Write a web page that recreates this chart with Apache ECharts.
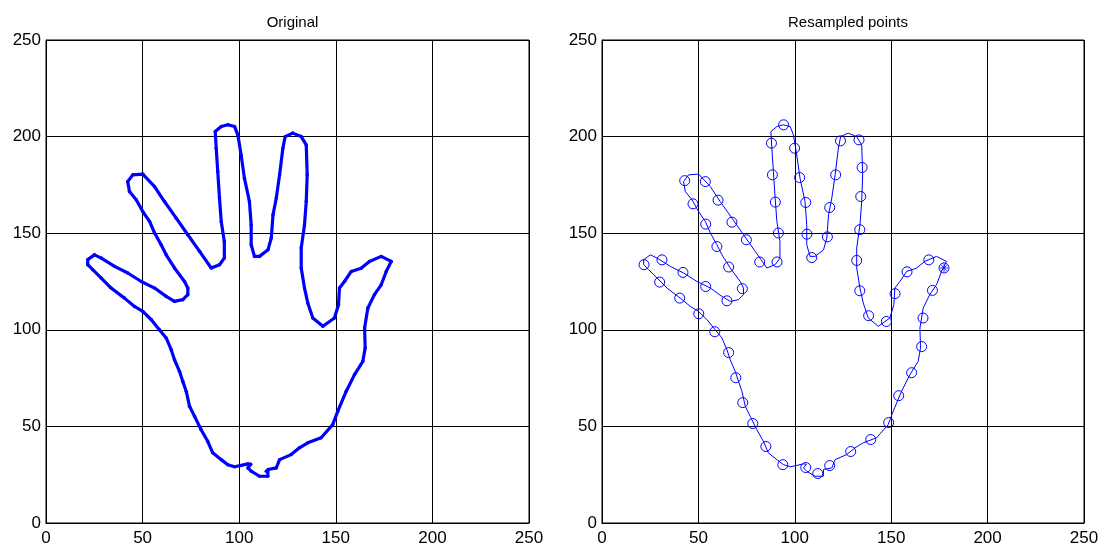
<!DOCTYPE html>
<html>
<head>
<meta charset="utf-8">
<script src="https://cdn.jsdelivr.net/npm/echarts@6/dist/echarts.min.js"></script>
<style>html,body{margin:0;padding:0;background:#fff}#c{width:1109px;height:549px}</style>
</head>
<body>
<div id="c"></div>
<script>
// Original hand outline (traced)
const origX = [178.7,176.1,173.5,170,166.6,164.9,165.2,164,159.7,155.4,151,148.4,142.4,135.5,131.2,126.9,120.9,119.2,114.9,114,114.8,110.5,106.2,104.5,106,104.5,101,97.6,94.1,90.7,86.3,83.7,80.3,76.9,74.3,72.6,70.8,69.1,66.5,64.8,62.2,58.7,54.5,50.1,45.8,40.6,33.7,28.6,24.2,21.6,21.6,25.1,28.6,35.5,42.3,49.3,56.2,62.2,66.5,70.8,73.4,73.4,71.7,66.5,62.2,59.6,56.2,53.6,50.1,46.7,43.2,42.3,44.9,50.1,56.2,61.3,67.4,73.4,79.5,85.5,89.8,92.3,92.3,90.7,89.8,88.9,88.1,87.6,90.7,94.1,97.6,99.3,101,102.7,105.3,106.2,106.2,107.9,110.5,114.9,116.6,117.5,119.2,120.9,122.6,123.8,127.7,132.1,134.7,135.2,134.7,133.8,132.1,132.1,133.8,135.5,138.1,143.3,149.3,151.4,151.9,154.5,158,163.1,167.4,173.5,178.7];
const origY = [135.4,130.2,123.3,118.2,111.3,100.9,90.6,83.7,76.8,68.2,57.8,50.9,44.1,41.5,38.9,35.4,32.8,28.5,27.7,26.8,24.2,24.2,26.8,28.5,30.4,30.6,29.8,29.1,30.2,32.8,36.3,42.3,48.3,55.2,60.4,68.1,73.3,78.5,84.5,89.7,95.8,100,105.2,109.5,112.1,116.4,121.6,126.8,131.1,133.7,136.3,138.8,137.1,132.8,129.4,125,121.6,117.3,114.7,115.6,118.2,121.6,125,132,138.8,144,150.1,156.1,161.2,167.3,171.6,176.7,180.2,180.6,174.1,166.4,157.8,149.2,140.6,132,133.7,137.1,145.7,156.1,168.2,181.9,194,202.6,205.2,206.1,205.2,200.9,190.5,178.5,166.4,154.3,144,138,138,141.4,147.5,159.5,168.2,180.2,194,200,201.8,200,195.7,180.2,166.4,154.3,142.3,132,121.6,113.9,106.1,101.8,106.1,113,121.6,125,130.2,131.9,135.4,138,135.4];

// Resampled points
const resX = [177.4,171.4,166.5,165.8,160.6,153.9,148.7,139.4,129,118.1,111.9,105.7,93.8,85,78.2,73,69.4,65.7,58.5,50.2,40.3,29.9,21.8,31.1,42,53.8,64.8,72.8,65.7,59.6,53.8,47.2,42.9,53.6,60.2,67.4,74.9,81.8,90.8,91.5,89.9,88.4,87.9,94.2,99.9,102.5,105.7,106.3,108.8,116.9,118.1,121.2,123.7,133.3,134.9,134.2,133.7,132.1,133.7,138.3,147.5,152,158.2,169.5];
const resY = [132,120.4,106.1,91.3,77.8,65.9,52,43.2,37,29.7,25.6,28.7,30.2,39.6,51.5,62.3,75.2,88.2,99,108.3,116.4,124.7,133.7,136.2,129.7,122.4,115,121.3,132.5,143.1,154.7,165.2,177.2,176.7,167.1,155.7,146.6,135.1,135.1,150.1,166.1,180.2,196.6,206.1,194,178.8,165.9,149.5,137.4,148.1,163.3,180.2,197.8,198.3,184,169,151.8,135.9,120.2,107.3,104.3,118.7,130,136.2];

const tickVals = [0,50,100,150,200,250];
const titles = ['Original','Resampled points'];

const zip = (xs, ys) => xs.map((x, i) => [x, ys[i]]);
const origData = zip(origX, origY);
const resData = zip(resX, resY);

const FONT = 'Liberation Sans, Arial, Helvetica, sans-serif';
const grids = [
  {left: 46, top: 40, width: 483, height: 483},
  {left: 602, top: 40, width: 482, height: 483}
];
function axis(gi, dim) {
  return {
    type: 'value', gridIndex: gi, min: tickVals[0], max: tickVals[tickVals.length-1], interval: 50,
    axisLine: {show: true, onZero: false, lineStyle: {color: '#000', width: 1}},
    axisTick: {show: false},
    axisLabel: {color: '#000', fontSize: 17, fontFamily: FONT, margin: dim === 'x' ? 7 : 5},
    splitLine: {show: true, lineStyle: {color: '#000', width: 1, type: 'solid'}}
  };
}
const chart = echarts.init(document.getElementById('c'), null, {renderer: 'canvas'});
chart.setOption({
  animation: false,
  backgroundColor: '#fff',
  title: [
    {text: titles[0], left: 46 + 483/2, top: 10, textAlign: 'center', textStyle: {fontSize: 15, fontWeight: 'normal', color: '#000', fontFamily: FONT}},
    {text: titles[1], left: 602 + 482/2, top: 10, textAlign: 'center', textStyle: {fontSize: 15, fontWeight: 'normal', color: '#000', fontFamily: FONT}}
  ],
  grid: grids.map(g => Object.assign({show: true, borderColor: '#000', borderWidth: 1, backgroundColor: 'transparent'}, g)),
  xAxis: [axis(0, 'x'), axis(1, 'x')],
  yAxis: [axis(0, 'y'), axis(1, 'y')],
  series: [
    {type: 'line', xAxisIndex: 0, yAxisIndex: 0, data: origData, showSymbol: true, symbol: 'circle', symbolSize: 3.5,
     itemStyle: {color: '#0000ff'}, lineStyle: {color: '#0000ff', width: 3.2}},
    {type: 'line', xAxisIndex: 1, yAxisIndex: 1, data: origData, showSymbol: false,
     lineStyle: {color: '#0000ff', width: 1}},
    {type: 'scatter', xAxisIndex: 1, yAxisIndex: 1, data: resData, symbol: 'circle', symbolSize: 10,
     itemStyle: {color: 'rgba(0,0,0,0)', borderColor: '#0000ff', borderWidth: 1, opacity: 1}},
    {type: 'scatter', xAxisIndex: 1, yAxisIndex: 1, data: [resData[0]],
     symbol: 'path://M0,-10L0,10M-10,0L10,0M-7,-7L7,7M-7,7L7,-7', symbolSize: 8,
     itemStyle: {color: 'none', borderColor: '#0000ff', borderWidth: 1}}
  ]
});
</script>
</body>
</html>
